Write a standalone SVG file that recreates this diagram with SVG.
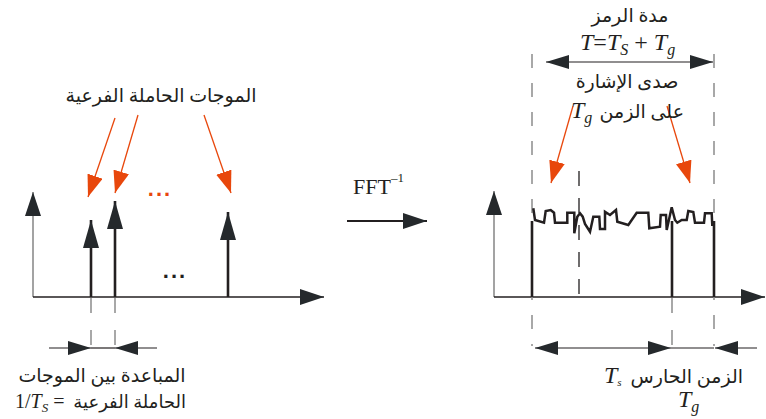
<svg xmlns="http://www.w3.org/2000/svg" width="766" height="419" viewBox="0 0 766 419">
<style>
.ar{font-family:"Liberation Serif","DejaVu Serif","DejaVu Sans",serif;font-size:19px;fill:#231f20}
.m{font-family:"Liberation Serif","DejaVu Serif",serif;font-size:24px;fill:#231f20}
.it{font-style:italic}
.ax{stroke:#231f20;stroke-width:1.5;fill:none}
.gax{stroke:#8c8c8c;stroke-width:1.6;fill:none}
.sp{stroke:#231f20;stroke-width:2.6;fill:none}
.dash{stroke:#8c8c8c;stroke-width:1.5;stroke-dasharray:14 15;fill:none}
.dashk{stroke:#231f20;stroke-width:1.3;stroke-dasharray:15 12;fill:none}
.or{stroke:#e8470c;stroke-width:1.3;fill:none}
.dim{stroke:#231f20;stroke-width:1.2;fill:none}
</style>
<defs>
<marker id="ah" markerUnits="userSpaceOnUse" viewBox="0 0 24 16" markerWidth="24" markerHeight="16" refX="24" refY="8" orient="auto"><path d="M0,0 L24,8 L0,16 z" fill="#25292c"/></marker>
<marker id="sp" markerUnits="userSpaceOnUse" viewBox="0 0 28 16" markerWidth="28" markerHeight="16" refX="28" refY="8" orient="auto"><path d="M0,0 L28,8 L0,16 z" fill="#25292c"/></marker>
<marker id="dm" markerUnits="userSpaceOnUse" viewBox="0 0 23 14" markerWidth="23" markerHeight="14" refX="23" refY="7" orient="auto"><path d="M0,0 L23,7 L0,14 z" fill="#25292c"/></marker>
<marker id="oa" markerUnits="userSpaceOnUse" viewBox="0 0 22 16" markerWidth="22" markerHeight="16" refX="22" refY="8" orient="auto"><path d="M0,0 L22,8 L0,16 z" fill="#e8470c"/></marker>
</defs>

<g id="connectors">
<path class="gax" d="M33,297 V192" marker-end="url(#ah)"/>
<path class="ax" d="M33,297 H324" marker-end="url(#ah)"/>
<path class="sp" d="M91,297 V220" marker-end="url(#sp)"/>
<path class="sp" d="M115,297 V201" marker-end="url(#sp)"/>
<path class="sp" d="M228,297 V212" marker-end="url(#sp)"/>
<path class="or" d="M115,118 L88,197" marker-end="url(#oa)"/>
<path class="or" d="M138,115 L115,193" marker-end="url(#oa)"/>
<path class="or" d="M204,115 L231,193" marker-end="url(#oa)"/>
<path class="dash" d="M91,298 V346" style="stroke-dasharray:15 17"/>
<path class="dash" d="M115,298 V346" style="stroke-dasharray:15 17"/>
<path class="dim" d="M49,348 H91" marker-end="url(#dm)"/>
<path class="dim" d="M91,348 H115"/>
<path class="dim" d="M157,348 H115" marker-end="url(#dm)"/>
<path class="ax" d="M347,221 H427" style="stroke-width:2" marker-end="url(#ah)"/>
<path class="gax" d="M494,297 V191" marker-end="url(#ah)"/>
<path class="ax" d="M494,297 H765" marker-end="url(#ah)"/>
<path class="dash" d="M532,54 V346"/>
<path class="dash" d="M714,54 V346"/>
<path class="dash" d="M672,298 V346" style="stroke-dasharray:15 17"/>
<path class="dashk" d="M579,171 V297"/>
<path class="sp" d="M532,297 V221 M672,297 V221 M714,297 V221"/>
<polyline points="533.3,208.3 535,220 544,222.7 545.7,211 550.7,210 554,212.7 555,222.7 567.3,222.7 567.3,212.7 574.3,212.7 574.3,233.3 577.3,216.7 580,213.3 582.7,216.7 585,224 590,231.7 593.3,216.7 599.3,216.7 600,229 605,229 605,211.7 610,215 616,210 617.3,221.7 628.3,225 636.7,212.7 648.3,212.7 649.3,228.3 660,226.7 660.7,215 666,215 666.7,230 671.7,207.3 675,220 677.3,222.7 681.7,220 686.7,220 688.3,211 693.3,212 695,222.7 704,222.7 705,213.3 711.7,213.3 712.3,226" fill="none" stroke="#231f20" stroke-width="2.5" stroke-linejoin="miter"/>
<path class="or" d="M573,106 L551,183" marker-end="url(#oa)"/>
<path class="or" d="M667,106 L690,183" marker-end="url(#oa)"/>
<path class="dim" d="M630,62 H546" marker-end="url(#dm)"/>
<path class="dim" d="M630,62 H713" marker-end="url(#dm)"/>
<path class="dim" d="M603,348 H535" marker-end="url(#dm)"/>
<path class="dim" d="M603,348 H671" marker-end="url(#dm)"/>
<path class="dim" d="M671,348 H714"/>
<path class="dim" d="M757,348 H715" marker-end="url(#dm)"/>
</g>

<g id="subcarriers-label">
<text class="ar" x="161" y="102" text-anchor="middle">الموجات الحاملة الفرعية</text>
<text x="160" y="196" text-anchor="middle" font-family="Liberation Sans, sans-serif" font-size="22" font-weight="bold" fill="#e8470c" letter-spacing="2">...</text>
<text x="175" y="278" text-anchor="middle" font-family="Liberation Sans, sans-serif" font-size="22" font-weight="bold" fill="#231f20" letter-spacing="2">...</text>
</g>

<g id="spacing-label">
<text class="ar" x="102" y="382" text-anchor="middle">المباعدة بين الموجات</text>
<text class="ar" x="186" y="408" text-anchor="end" style="font-size:18px">الحاملة الفرعية</text>
<text class="m" x="15" y="408" style="font-size:20px">1/<tspan class="it">T</tspan><tspan font-size="13" dy="4" class="it">S</tspan><tspan dy="-4"> =</tspan></text>
</g>

<g id="fft">
<text class="m" x="353" y="194" style="font-size:22px">FFT<tspan font-size="13" dy="-12">–1</tspan></text>
</g>

<g id="symbol-duration">
<text class="ar" x="630" y="22" text-anchor="middle">مدة الرمز</text>
<text class="m" x="580" y="50"><tspan class="it">T</tspan>=<tspan class="it">T</tspan><tspan font-size="16" dy="5" class="it">S</tspan><tspan dy="-5"> + </tspan><tspan class="it">T</tspan><tspan font-size="16" dy="5" class="it">g</tspan></text>
</g>

<g id="echo-label">
<text class="ar" x="627" y="88" text-anchor="middle">صدى الإشارة</text>
<text class="ar" x="684" y="118" text-anchor="end">على الزمن</text>
<text class="m" x="571" y="118"><tspan class="it">T</tspan><tspan font-size="16" dy="5" class="it">g</tspan></text>
</g>

<g id="guard-label">
<text class="ar" x="743" y="383" text-anchor="end">الزمن الحارس</text>
<text class="m" x="604" y="383"><tspan class="it">T</tspan><tspan font-size="11" dy="3" class="it">s</tspan></text>
<text class="m" x="678" y="407"><tspan class="it">T</tspan><tspan font-size="16" dy="5" class="it">g</tspan></text>
</g>
</svg>
